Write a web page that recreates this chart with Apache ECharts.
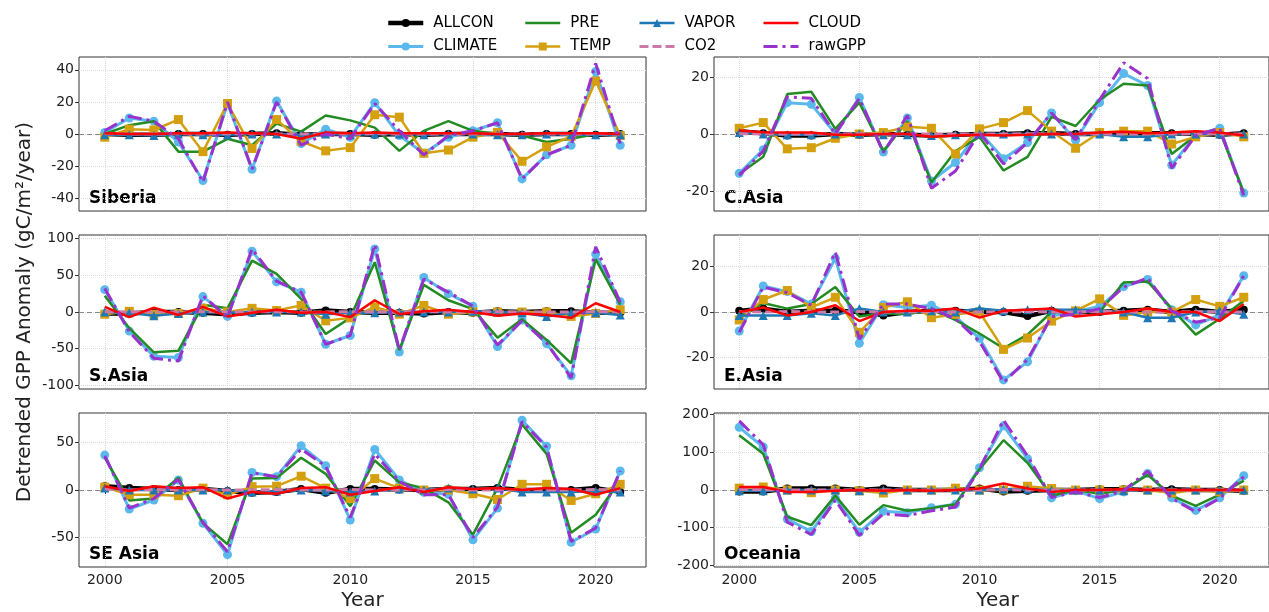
<!DOCTYPE html>
<html>
<head>
<meta charset="utf-8">
<script src="https://cdn.jsdelivr.net/npm/echarts@6/dist/echarts.min.js"></script>
<style>
  html, body { margin: 0; padding: 0; background: #fff; }
  #chart { width: 1269px; height: 612px; }
</style>
</head>
<body>
<div id="chart"></div>
<script>
var years = [2000, 2001, 2002, 2003, 2004, 2005, 2006, 2007, 2008, 2009, 2010,
             2011, 2012, 2013, 2014, 2015, 2016, 2017, 2018, 2019, 2020, 2021];
var xTicks = [2000, 2005, 2010, 2015, 2020];

var regions = ['Siberia', 'C.Asia', 'S.Asia', 'E.Asia', 'SE Asia', 'Oceania'];
var yLimits = [48, 27, 105, 34, 81, 204];
var yTicks = [
  [-40, -20, 0, 20, 40],
  [-20, 0, 20],
  [-100, -50, 0, 50, 100],
  [-20, 0, 20],
  [-50, 0, 50],
  [-200, -100, 0, 100, 200]
];

// values, one object per panel
var siberia = {
  ALLCON:  [0, -0.5, -0.5, 0, 0, -0.5, 0, 0.5, -0.5, 0, 0, -0.5, 0, -0.5, 0, 0, 0, -0.5, 0, 0, -0.5, 0],
  CLIMATE: [1, 10, 8, -5, -29, 19, -22, 20.5, -6, 3, -2, 19.5, -1, -12, -2, 2, 7, -28, -13, -7, 39, -7],
  PRE:     [0, 5.5, 8, -11, -11, -3, -7, 6.5, 1.5, 11.5, 8.5, 4, -10.5, 2, 8, 2, 0, -1, -5, -3, 0, 0],
  TEMP:    [-2, 3, 2.5, 9, -11, 19, -9, 9, -4.5, -10.5, -8.5, 12, 10.5, -12, -10, -2, 1, -17, -8, -1.5, 33, -1],
  VAPOR:   [-0.5, -0.5, -1, 0, -0.5, -0.5, 0, 0, -0.5, 0, -0.5, 0, 0, -0.5, 0, 0, -0.5, -0.5, 0, -0.5, -0.5, -0.5],
  CO2:     [0.2, 0.1, 0, 0.1, 0, 0.2, 0.1, 0, 0, 0.1, 0, 0.1, 0, 0, 0.1, 0, 0, 0.1, 0, 0, 0.1, 0],
  CLOUD:   [0.5, 0, 0, 0.5, 0.5, 1, 0.5, 0, -3, 1, 0.5, 1, 0.5, 0.5, 0.5, 0.5, 0, 0, 0.5, 0.5, 0.5, 0],
  rawGPP:  [2, 11, 8, -3, -30, 20, -22, 20, -7, 0, -3, 19, 2, -13, -1, 2, 7, -28, -13, -7, 44, -6]
};
var casia = {
  ALLCON:  [1, 0.3, -0.5, -0.5, 0, -0.3, 0, -0.3, -0.5, -0.3, 0, 0, 0.3, 0.3, 0, 0, 0.3, 0.3, 0.3, 0, -0.3, 0.3],
  CLIMATE: [-13.8, -5.5, 11, 10.4, 0.2, 12.8, -6.3, 5.6, -16.5, -10, 0.8, -8.7, -3, 7.4, -2.2, 11, 21.2, 17, -10.9, -0.4, 2, -20.7],
  PRE:     [-14, -8, 14, 14.8, 1.8, 11, -6, 4.5, -17, -6, -1, -12.8, -8, 6, 2.8, 12, 17.6, 17, -7, -0.5, 1, -20.5],
  TEMP:    [2, 4, -5.2, -4.8, -1.5, 0, 0.5, 2.5, 2, -7, 1.8, 4, 8.2, 1, -5, 0.5, 1, 1, -3.5, -1, 0.5, -1],
  VAPOR:   [0.5, 0, -0.3, -0.3, 0, 0, -0.3, -0.3, -0.5, -0.3, 0, 0, 0, 0, -0.3, 0, -1, -1, 0, 0, 0, 0],
  CO2:     [0.1, 0, 0, 0, 0, 0.1, 0, 0, 0, 0, 0, 0, 0.1, 0, 0, 0, 0, 0, 0, 0.1, 0, 0],
  CLOUD:   [1.2, 0.6, 0.5, 0.5, -0.3, -0.3, 0, 0, -1, -0.5, -0.3, -0.5, -0.3, 0, 0, 0.5, 0.8, 0.3, 0.5, 1, 0.5, -0.5],
  rawGPP:  [-14.5, -6, 13, 12.5, 0, 12.5, -6.5, 6.5, -19, -13, 0.5, -10.5, -3, 7.4, -2, 12, 25, 19.5, -12, -0.5, 2, -21.5]
};
var sasia = {
  ALLCON:  [-2, -2, 0, 0, -1, -3, -1, 0, -1, 2, 0, -1, -1, -2, 0, -1, 1, 0, 1, 1, -1, -1],
  CLIMATE: [30.5, -26, -60.5, -62, 21, -6, 83, 41, 27, -44, -32, 86, -54.5, 47, 25, 8, -47, -11, -43, -87, 79, 14],
  PRE:     [22, -22, -55, -53, 10, 5, 70, 52, 18, -30, -8, 68, -52, 37, 16, 4, -35, -10, -38, -70, 72, 10],
  TEMP:    [-3, 1, -3, -2, 5, 0, 5, 2, 9, -12, -8, 7, -3, 9, -3, 0, 0, 0, 0, -6, -2, 3],
  VAPOR:   [0, -1, -5, -2, 0, -1, 0, 0, 0, -3, -1, -1, 0, 0, 0, 1, 0, -1, -6, -1, -1, -4],
  CO2:     [0.5, 0, 0.5, 0, 0.5, 0, 0, 0.5, 0, 0, 0.5, 0, 0, 0.5, 0, 0, 0.5, 0, 0, 0, 0.5, 0],
  CLOUD:   [7, -7, 6, -4, 7, -6, -1, 3, -1, 0, -7, 16, -3, 1, 3, 0, -5, -2, -4, -8, 12, 0],
  rawGPP:  [32, -27, -63, -67, 22, -7, 86, 42, 27, -44, -32, 92, -52, 45, 27, 8, -45, -12, -42, -90, 89, 13]
};
var easia = {
  ALLCON:  [0.5, 1.5, 0, 0.5, 0.5, 0, -1.5, 0, 0.5, 0.5, 0, 0, -1.8, 0.5, 0, 0, 0.5, 1, 0, 1, 0, 1],
  CLIMATE: [-8.4, 11.5, 9, 3.5, 23.7, -13.8, 3.2, 2, 3, -2, -11.6, -30, -22, -1.8, 0.2, 2.4, 11.2, 14.4, 1, -5.7, -1.3, 16],
  PRE:     [-2, 4, 1.5, 3.5, 11, -2, -0.5, -1, 1, -3.5, -9.5, -16, -10, 0, 0, 0, 13, 13.5, 1.5, -10, -3, 5],
  TEMP:    [-3.5, 5.5, 9.5, 2, 6.5, -9, 2, 4.5, -2.5, -1, 0, -16.5, -11.5, -4, 0.5, 5.8, -1.5, 0, 0, 5.5, 2.5, 6.5],
  VAPOR:   [-1.5, -1.5, -1.5, -0.5, -1.5, 1.5, 0, 0, 0.5, 0, 1.5, 0.5, 1, 1, 1, 0.5, 0, -2.5, -2.5, 0, 0.5, -1],
  CO2:     [0.2, 0, 0.2, 0, 0, 0.2, 0, 0, 0.2, 0, 0, 0, 0.2, 0, 0, 0.2, 0, 0, 0, 0.2, 0, 0],
  CLOUD:   [0, 2, -1.5, 0, 3, -4, 0, 0.5, 0.5, 1.5, -2.5, 0.5, 1, 1.5, -2, -1, 0, 1.5, 0, 0, -4, 3.5],
  rawGPP:  [-9, 11, 8.5, 3, 26.5, -12, 3.5, 3.5, 1.5, -3, -13, -31, -21, -2, -1, 1.5, 11, 15, 0.5, -4.5, -2.5, 16]
};
var seasia = {
  ALLCON:  [4, 2, 1, 0, 1, -1, -3, -2, 1, -3, 1, 1, 0.5, 0, 1, 1, 2, 0, 0, 0, 2, -2],
  CLIMATE: [36.7, -20, -10.5, 10.5, -35, -68, 18.5, 14, 46.5, 25.5, -31.5, 42.7, 10.5, -2.4, -4.5, -52.4, -19, 73.4, 46, -55, -41, 20],
  PRE:     [34, -11, -9, 13, -35, -57, 12, 12.5, 34, 17, -17, 31, 8, 2, -13, -47, 2, 69, 38, -45, -26, 10],
  TEMP:    [3, -5, -5, -6, 2, -5, 3.5, 4, 14.5, 2, -9, 12, 2, 0, 0, -4, -10, 6, 6, -11, -4, 6],
  VAPOR:   [2, 0, 0, 0, 0, 0, -2, -1, 0, -1, -2, -1, 1, 0, 2, 1, 2, -2, -2, -2, -1, -2],
  CO2:     [1, 0, 0.5, 0, 0.5, 0, 0, 0.5, 0, 0, 0.5, 0, 0, 0, 0.5, 0, 0, 0.5, 0, 0, 0.5, 0],
  CLOUD:   [4, -1, 4, 2, 3, -9, -2, -4, 2, 3, -5, -1, 3, -2, 3, 1, 2, 0, 2, 1, -5, 2],
  rawGPP:  [36, -19, -9, 11, -34, -65, 18, 14, 43, 25, -29, 38, 9, -5, -5, -50, -18, 72, 45, -54, -40, 20]
};
var oceania = {
  ALLCON:  [-4, -4, 4, 4, 4, 0, 4, 0, 0, 0, 4, -4, -2, 0, 0, 2, 2, 0, 2, 0, 0, -2],
  CLIMATE: [166, 114, -77, -110, -21, -112, -56, -60, -47, -38, 59, 170, 83, -21, -2, -23, -5, 44, -21, -54, -21, 38],
  PRE:     [145, 96, -71, -93, -15, -92, -40, -55, -48, -38, 55, 132, 72, -15, 0, -10, 0, 40, -15, -42, -12, 25],
  TEMP:    [5, 8, 0, -7, 0, -2, -8, 0, 0, 5, 0, 0, 10, 4, 0, 0, 0, 0, -8, 0, -5, 0],
  VAPOR:   [-2, -2, 0, 0, 0, -2, 0, 0, 0, 0, 0, 2, 2, 0, 0, 0, -2, 0, 0, 0, 0, 0],
  CO2:     [1, 1, 0, 0, 0, 1, 0, 0, 0, 0, 0, 1, 0, 0, 0, 0, 0, 1, 0, 0, 0, 0],
  CLOUD:   [8, 8, -5, -5, -2, 0, -2, 0, -2, 0, 4, 17, 4, -5, 0, 0, 2, 0, 0, 0, 0, 0],
  rawGPP:  [183, 120, -85, -118, -27, -120, -63, -68, -55, -45, 55, 185, 90, -20, -5, -20, -2, 50, -22, -58, -22, 35]
};
var regionData = [siberia, casia, sasia, easia, seasia, oceania];

// line styles, in the order the lines are drawn
var names   = ['ALLCON', 'CLIMATE', 'PRE', 'TEMP', 'VAPOR', 'CO2', 'CLOUD', 'rawGPP'];
var colors  = ['#000000', '#5BB8EC', '#228B22', '#D4A010', '#1F77B4', '#CC79A7', '#FF0000', '#9932CC'];
var widths  = [4.5, 3, 2.5, 2.5, 2.5, 3, 2.5, 3];
var symbols = ['circle', 'circle', 'none', 'rect', 'triangle', 'none', 'none', 'none'];
var symSize = [8, 9, 0, 9, 9, 0, 0, 0];
var dashes  = ['solid', 'solid', 'solid', 'solid', 'solid', [9, 4], 'solid', [14, 5, 3, 5]];

var font = 'DejaVu Sans';
var colLeft = [79, 714];
var rowTop = [57, 235, 413];
var gridW = 567, gridH = 154;

var chart = echarts.init(document.getElementById('chart'));

var grids = [], xAxes = [], yAxes = [], series = [], graphics = [];

regions.forEach(function (name, g) {
  var row = Math.floor(g / 2), col = g % 2;
  grids.push({
    left: colLeft[col], top: rowTop[row], width: gridW, height: gridH,
    show: true, borderColor: '#333', borderWidth: 1
  });
  xAxes.push({
    gridIndex: g, type: 'value', min: 1998.95, max: 2022.05,
    axisLine: { show: false },
    axisTick: { show: true, length: 4, customValues: xTicks, lineStyle: { color: '#333' } },
    axisLabel: {
      show: row === 2, customValues: xTicks, fontSize: 14, fontFamily: font, color: '#222', margin: 6,
      formatter: function (v) { return String(v); }
    },
    splitLine: { show: true, lineStyle: { color: '#d9d9d9', type: 'dotted', width: 1 } }
  });
  yAxes.push({
    gridIndex: g, type: 'value', min: -yLimits[g], max: yLimits[g],
    axisLine: { show: false },
    axisTick: { show: true, length: 4, customValues: yTicks[g], lineStyle: { color: '#333' } },
    axisLabel: { customValues: yTicks[g], fontSize: 14, fontFamily: font, color: '#222', margin: 5 },
    splitLine: { show: true, lineStyle: { color: '#d9d9d9', type: 'dotted', width: 1 } }
  });

  names.forEach(function (nm, k) {
    var vals = regionData[g][nm];
    var s = {
      name: nm, type: 'line', xAxisIndex: g, yAxisIndex: g,
      data: years.map(function (yr, j) { return [yr, vals[j]]; }),
      symbol: symbols[k], symbolSize: symSize[k], showSymbol: symbols[k] !== 'none',
      lineStyle: { color: colors[k], width: widths[k], type: dashes[k] },
      itemStyle: { color: colors[k], borderWidth: 0 },
      z: 2 + k, silent: true
    };
    if (k === 0) {
      s.markLine = {
        silent: true, symbol: 'none', z: 1, label: { show: false },
        lineStyle: { color: '#888', type: [5, 3], width: 1 },
        data: [{ yAxis: 0 }]
      };
    }
    series.push(s);
  });

  graphics.push({
    type: 'text', left: colLeft[col] + 10, top: rowTop[row] + gridH - 21,
    style: { text: name, fontSize: 17, fontWeight: 'bold', fontFamily: font, fill: '#000' }
  });
});

graphics.push({
  type: 'text', x: 25, y: 312, rotation: Math.PI / 2,
  style: { text: 'Detrended GPP Anomaly (gC/m²/year)', fontSize: 20, fontFamily: font,
           fill: '#222', align: 'center', verticalAlign: 'middle' }
});
[0, 1].forEach(function (col) {
  graphics.push({
    type: 'text', x: colLeft[col] + gridW / 2, y: 601,
    style: { text: 'Year', fontSize: 20, fontFamily: font, fill: '#222', align: 'center', verticalAlign: 'middle' }
  });
});

// legend: 4 columns of 2, each entry styled like its line
var legendCols = [['ALLCON', 'CLIMATE'], ['PRE', 'TEMP'], ['VAPOR', 'CO2'], ['CLOUD', 'rawGPP']];
var legendLeft = [386, 524, 638, 762];
var legends = legendCols.map(function (items, c) {
  return {
    orient: 'vertical', left: legendLeft[c], top: 15.5, padding: 0,
    itemWidth: 35, itemHeight: 10, itemGap: 8.5,
    selectedMode: false,
    data: items.map(function (nm) {
      var k = names.indexOf(nm);
      return {
        name: nm,
        itemStyle: symbols[k] === 'none' ? { opacity: 0 } : { color: colors[k], borderWidth: 0 },
        lineStyle: { color: colors[k], width: widths[k], type: dashes[k] }
      };
    }),
    textStyle: { fontSize: 15, fontFamily: font, color: '#000', lineHeight: 14, padding: [0, 0, 0, 5] }
  };
});

chart.setOption({
  animation: false,
  backgroundColor: '#fff',
  legend: legends,
  grid: grids,
  xAxis: xAxes,
  yAxis: yAxes,
  series: series,
  graphic: graphics
});
</script>
</body>
</html>
